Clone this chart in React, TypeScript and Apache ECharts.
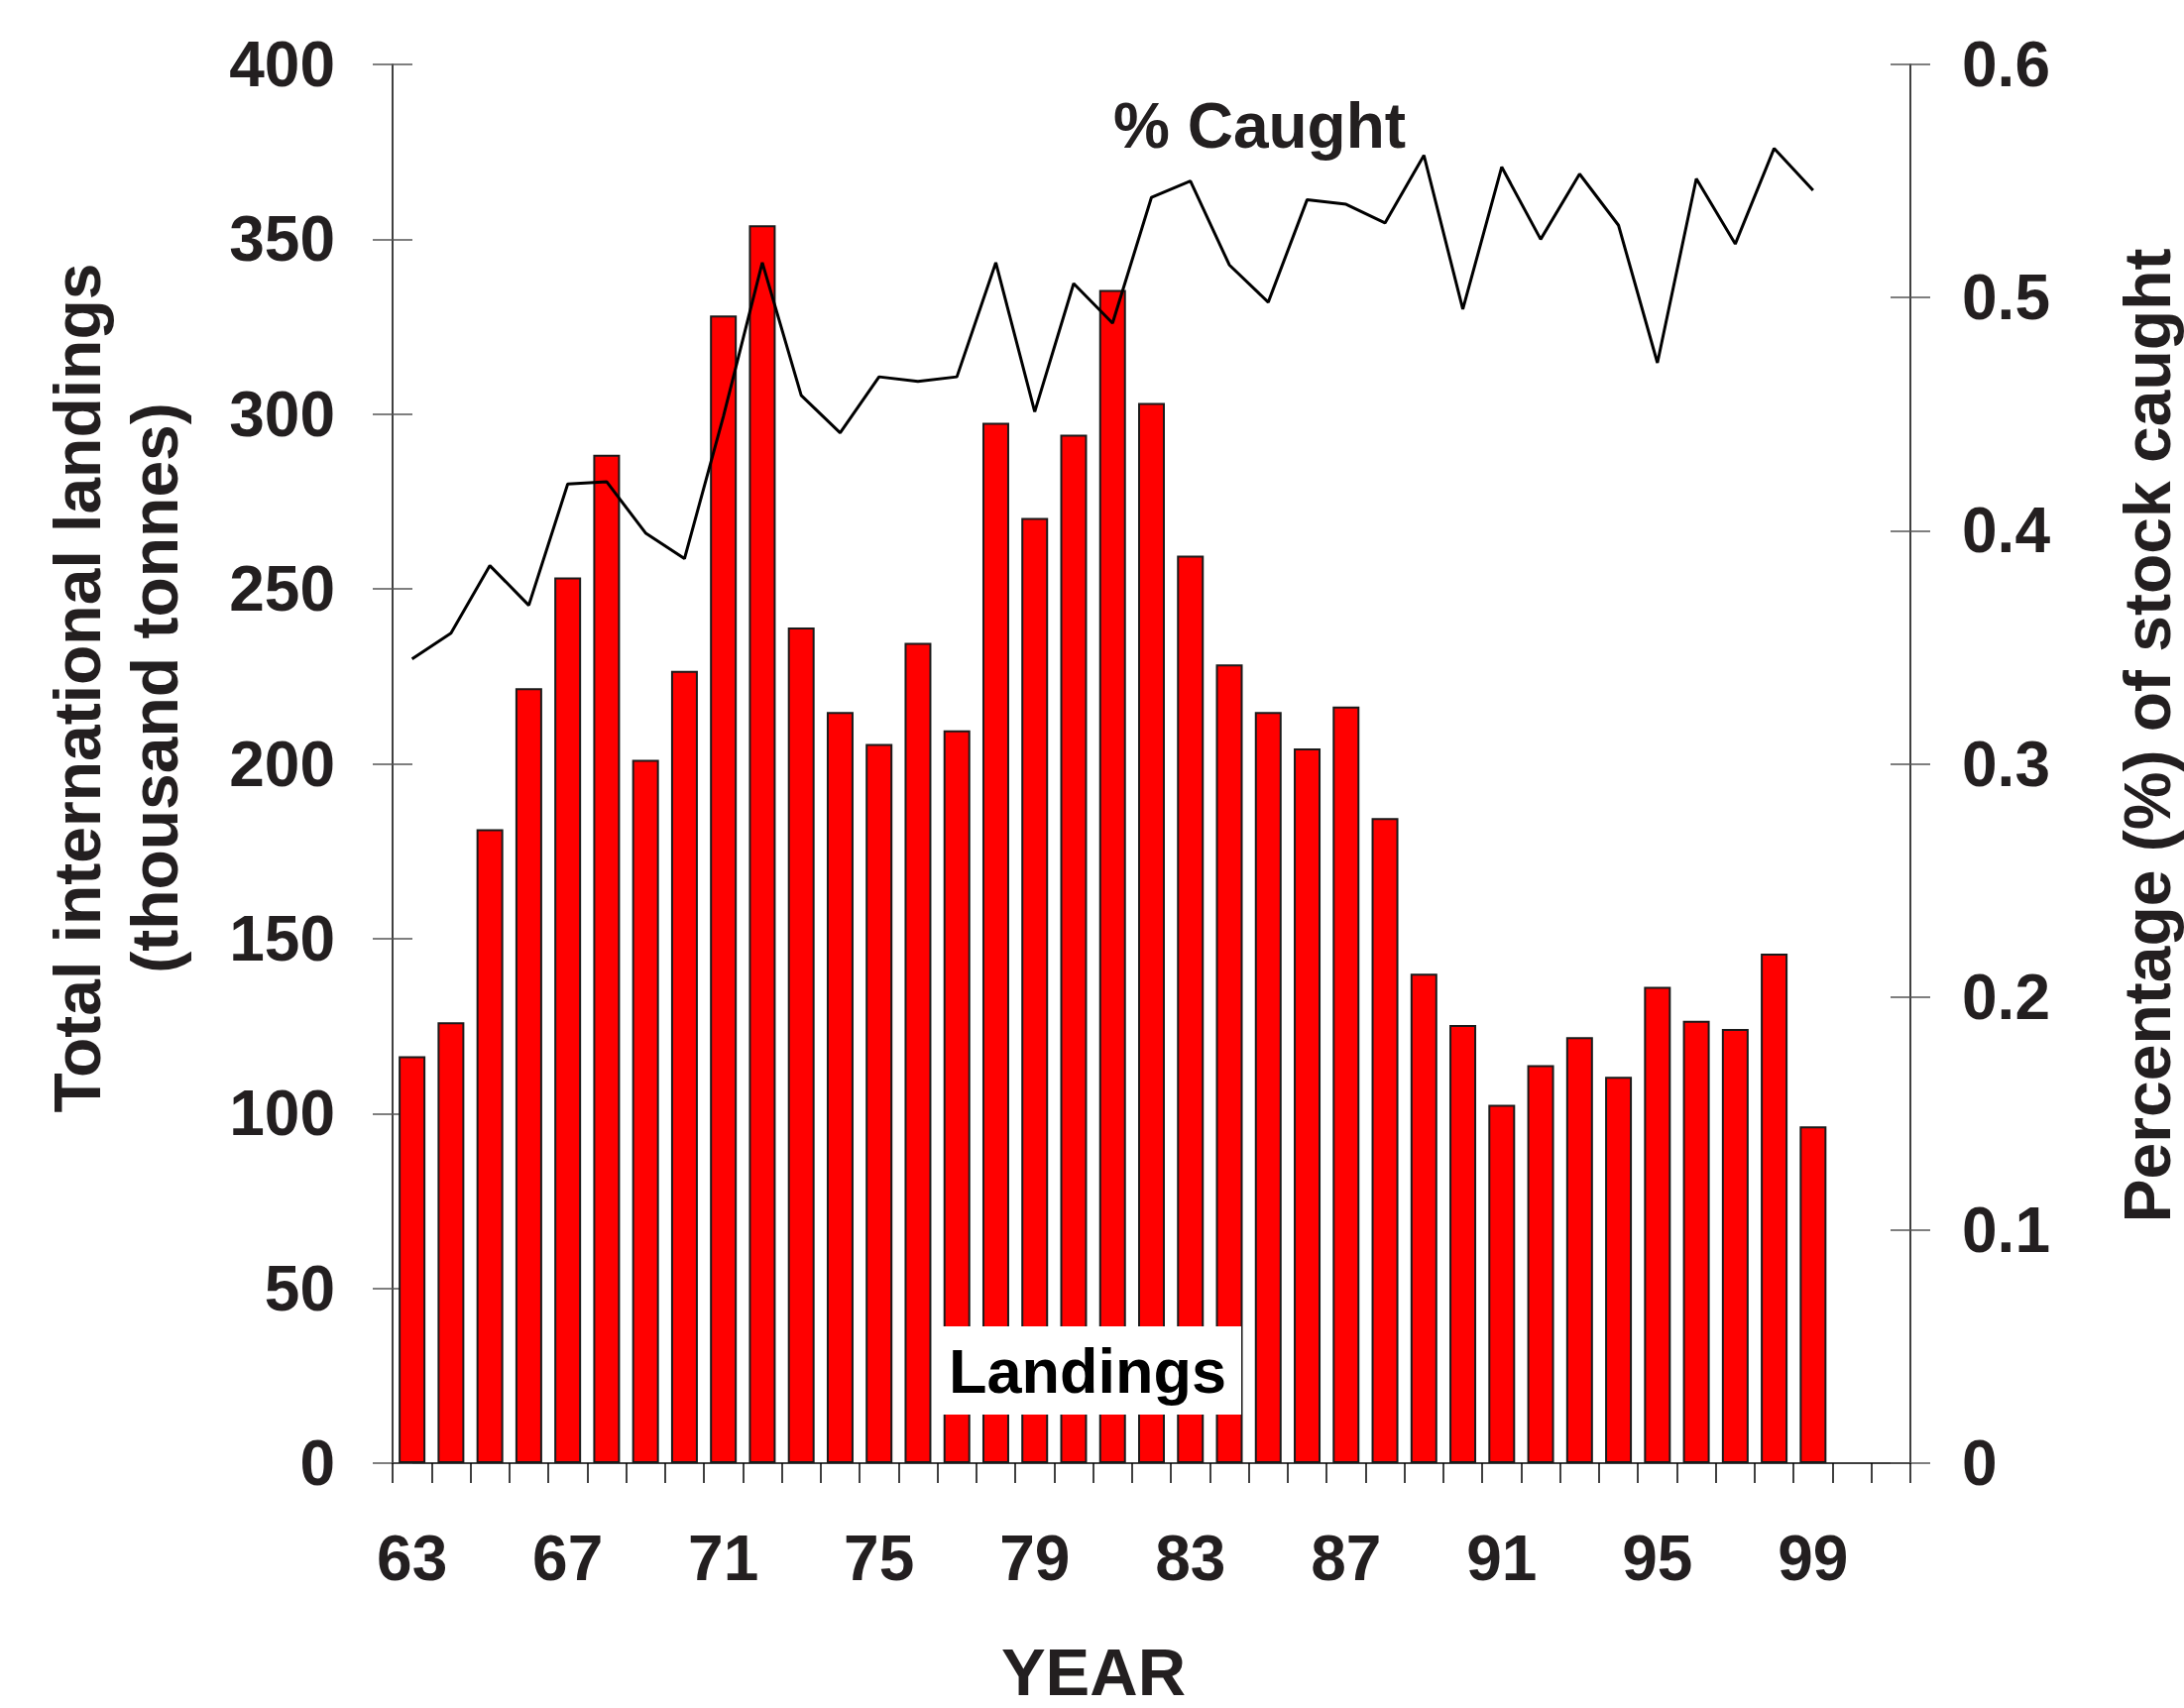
import React, { useEffect, useRef } from "react";
import * as echarts from "echarts";

const years = [
  "63", "64", "65", "66", "67", "68", "69", "70", "71", "72",
  "73", "74", "75", "76", "77", "78", "79", "80", "81", "82",
  "83", "84", "85", "86", "87", "88", "89", "90", "91", "92",
  "93", "94", "95", "96", "97", "98", "99", "100", "101",
];

const landings = [
  116.4, 126.1, 181.3, 221.6, 253.3, 288.4, 201.1, 226.6, 328.2, 354,
  239, 214.8, 205.7, 234.6, 209.6, 297.5, 270.3, 294.1, 335.5, 303.2,
  259.5, 228.4, 214.8, 204.4, 216.4, 184.5, 140, 125.3, 102.5, 113.8,
  121.8, 110.5, 136.2, 126.5, 124.2, 145.7, 96.3, null, null,
];

const pctCaught = [
  0.345, 0.356, 0.385, 0.368, 0.42, 0.421, 0.399, 0.388, 0.449, 0.515,
  0.458, 0.442, 0.466, 0.464, 0.466, 0.515, 0.451, 0.506, 0.489, 0.543,
  0.55, 0.514, 0.498, 0.542, 0.54, 0.532, 0.561, 0.495, 0.556, 0.525,
  0.553, 0.531, 0.472, 0.551, 0.523, 0.564, 0.546, null, null,
];

const leftTicks = { min: 0, max: 400, interval: 50 };
const rightTicks = { min: 0, max: 0.6, interval: 0.1 };

const leftTitle = "Total international landings\n(thousand tonnes)";
const rightTitle = "Percentage (%) of stock caught";
const xTitle = "YEAR";
const lineLabel = "% Caught";
const barLabel = "Landings";

const FONT = "'Liberation Sans', Arial, Helvetica, sans-serif";
const TXT = "#231F20";

export default function App() {
  const ref = useRef<HTMLDivElement | null>(null);

  useEffect(() => {
    if (!ref.current) return;
    const chart = echarts.init(ref.current, null, { renderer: "svg" });

    const labelStyle = {
      color: TXT,
      fontFamily: FONT,
      fontWeight: "bold" as const,
      fontSize: 64,
    };

    const option = {
      animation: false,
      backgroundColor: "#ffffff",
      grid: { left: 396, right: 276, top: 65, bottom: 247, containLabel: false },
      xAxis: [
        {
          type: "category",
          data: years,
          boundaryGap: true,
          axisLine: { show: true, lineStyle: { color: "#000", width: 1.5 } },
          axisTick: {
            show: true,
            inside: false,
            length: 20,
            interval: 0,
            lineStyle: { color: "#000", width: 1.5 },
          },
          axisLabel: { ...labelStyle, interval: 3, margin: 64 },
          splitLine: { show: false },
        },
      ],
      yAxis: [
        {
          type: "value",
          position: "left",
          ...leftTicks,
          axisLine: { show: true, lineStyle: { color: "#000", width: 1.5 } },
          axisTick: { show: true, inside: false, length: 20, lineStyle: { color: "#555", width: 1.5 } },
          axisLabel: { ...labelStyle, margin: 58 },
          splitLine: { show: false },
        },
        {
          type: "value",
          position: "left",
          ...leftTicks,
          axisLine: { show: false },
          axisTick: { show: true, inside: true, length: 20, lineStyle: { color: "#555", width: 1.5 } },
          axisLabel: { show: false },
          splitLine: { show: false },
        },
        {
          type: "value",
          position: "right",
          ...rightTicks,
          axisLine: { show: true, lineStyle: { color: "#000", width: 1.5 } },
          axisTick: { show: true, inside: false, length: 20, lineStyle: { color: "#555", width: 1.5 } },
          axisLabel: {
            ...labelStyle,
            margin: 52,
            formatter: (v: number) => (v === 0 ? "0" : v.toFixed(1)),
          },
          splitLine: { show: false },
        },
        {
          type: "value",
          position: "right",
          ...rightTicks,
          axisLine: { show: false },
          axisTick: { show: true, inside: true, length: 20, lineStyle: { color: "#555", width: 1.5 } },
          axisLabel: { show: false },
          splitLine: { show: false },
        },
      ],
      series: [
        {
          name: barLabel,
          type: "bar",
          yAxisIndex: 0,
          data: landings,
          barWidth: 27,
          itemStyle: { color: "#FF0000", borderColor: "#1a1a1a", borderWidth: 2 },
          z: 2,
        },
        {
          name: lineLabel,
          type: "line",
          yAxisIndex: 2,
          data: pctCaught,
          showSymbol: false,
          symbol: "none",
          lineStyle: { color: "#000", width: 3 },
          z: 5,
        },
      ],
      graphic: [
        {
          type: "text",
          x: 117,
          y: 694,
          rotation: Math.PI / 2,
          z: 100,
          style: {
            text: leftTitle,
            fill: TXT,
            font: `bold 66px ${FONT}`,
            align: "center",
            verticalAlign: "middle",
            lineHeight: 78,
          },
        },
        {
          type: "text",
          x: 2166,
          y: 742,
          rotation: Math.PI / 2,
          z: 100,
          style: {
            text: rightTitle,
            fill: TXT,
            font: `bold 66px ${FONT}`,
            align: "center",
            verticalAlign: "middle",
          },
        },
        {
          type: "text",
          x: 1103,
          y: 1686,
          z: 100,
          style: {
            text: xTitle,
            fill: TXT,
            font: `bold 67px ${FONT}`,
            align: "center",
            verticalAlign: "middle",
          },
        },
        {
          type: "text",
          x: 1123,
          y: 127,
          z: 100,
          style: {
            text: lineLabel,
            fill: TXT,
            font: `bold 64px ${FONT}`,
            align: "left",
            verticalAlign: "middle",
          },
        },
        {
          type: "rect",
          z: 99,
          shape: { x: 940, y: 1338, width: 312, height: 89 },
          style: { fill: "#ffffff", stroke: "none" },
        },
        {
          type: "text",
          x: 1097,
          y: 1383,
          z: 100,
          style: {
            text: barLabel,
            fill: "#000",
            font: `bold 63px ${FONT}`,
            align: "center",
            verticalAlign: "middle",
          },
        },
      ],
    };

    chart.setOption(option as any);
    return () => {
      chart.dispose();
    };
  }, []);

  return (
    <div
      ref={ref}
      style={{
        position: "fixed",
        left: 0,
        top: 0,
        width: 2203,
        height: 1723,
        background: "#ffffff",
      }}
    />
  );
}
